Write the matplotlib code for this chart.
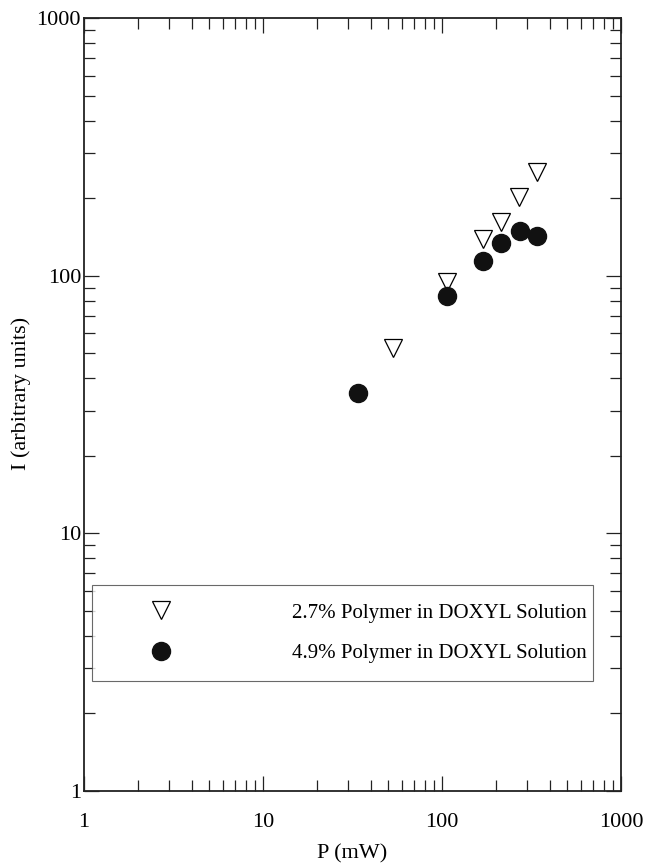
import numpy as np
import matplotlib.pyplot as plt
from matplotlib.ticker import LogLocator, FixedLocator, NullFormatter

# 2.7% polymer series (triangles)
p_27 = [53.5, 107, 169, 213, 268, 338]
i_27 = [52.7, 94.7, 139, 162, 202, 253]

# 4.9% polymer series (circles)
p_49 = [34, 107, 170, 214, 272, 338]
i_49 = [35, 83.4, 114, 134, 150, 142.5]

labels = ['2.7% Polymer in DOXYL Solution', '4.9% Polymer in DOXYL Solution']
ticks = [1, 10, 100, 1000]
tick_labels = ['1', '10', '100', '1000']

plt.rcParams['font.family'] = ['Liberation Serif', 'DejaVu Serif']

fig = plt.figure(figsize=(6.45, 8.67), dpi=100)
ax = fig.add_axes([0.130, 0.0877, 0.833, 0.891])

ax.plot(p_27, i_27, 'v', ms=12.5, mfc='white', mec='black', mew=0.9,
        ls='none', label=labels[0])
ax.plot(p_49, i_49, 'o', ms=13, mfc='#111111', mec='#111111',
        ls='none', label=labels[1])

ax.set_xscale('log')
ax.set_yscale('log')
ax.set_xlim(1, 1000)
ax.set_ylim(1, 1000)

ax.xaxis.set_major_locator(FixedLocator(ticks))
ax.yaxis.set_major_locator(FixedLocator(ticks))
ax.set_xticklabels(tick_labels)
ax.set_yticklabels(tick_labels)
ax.xaxis.set_minor_locator(LogLocator(base=10, subs=np.arange(2, 10)))
ax.yaxis.set_minor_locator(LogLocator(base=10, subs=np.arange(2, 10)))
ax.xaxis.set_minor_formatter(NullFormatter())
ax.yaxis.set_minor_formatter(NullFormatter())

ax.tick_params(which='both', direction='in', top=True, right=True,
               labelsize=16, width=0.9, colors='#222222', labelcolor='black')
ax.tick_params(which='major', length=11)
ax.tick_params(which='minor', length=8)
ax.tick_params(axis='x', which='major', pad=16)
ax.tick_params(axis='y', which='major', pad=2)
for s in ax.spines.values():
    s.set_linewidth(1.3)
    s.set_color('#222222')

ax.set_xlabel('P (mW)', fontsize=16, labelpad=9)
ax.set_ylabel('I (arbitrary units)', fontsize=16, labelpad=4, y=0.515)

leg = ax.legend(loc='upper left', bbox_to_anchor=(0.0145, 0.0, 0.933, 0.266),
                mode='expand', borderaxespad=0, fontsize=15, frameon=True,
                fancybox=False, borderpad=0.85, handlelength=5.0,
                handletextpad=3.75, labelspacing=1.0, edgecolor='#444444')
leg.get_frame().set_linewidth(0.8)

plt.savefig('out.png', dpi=100)
